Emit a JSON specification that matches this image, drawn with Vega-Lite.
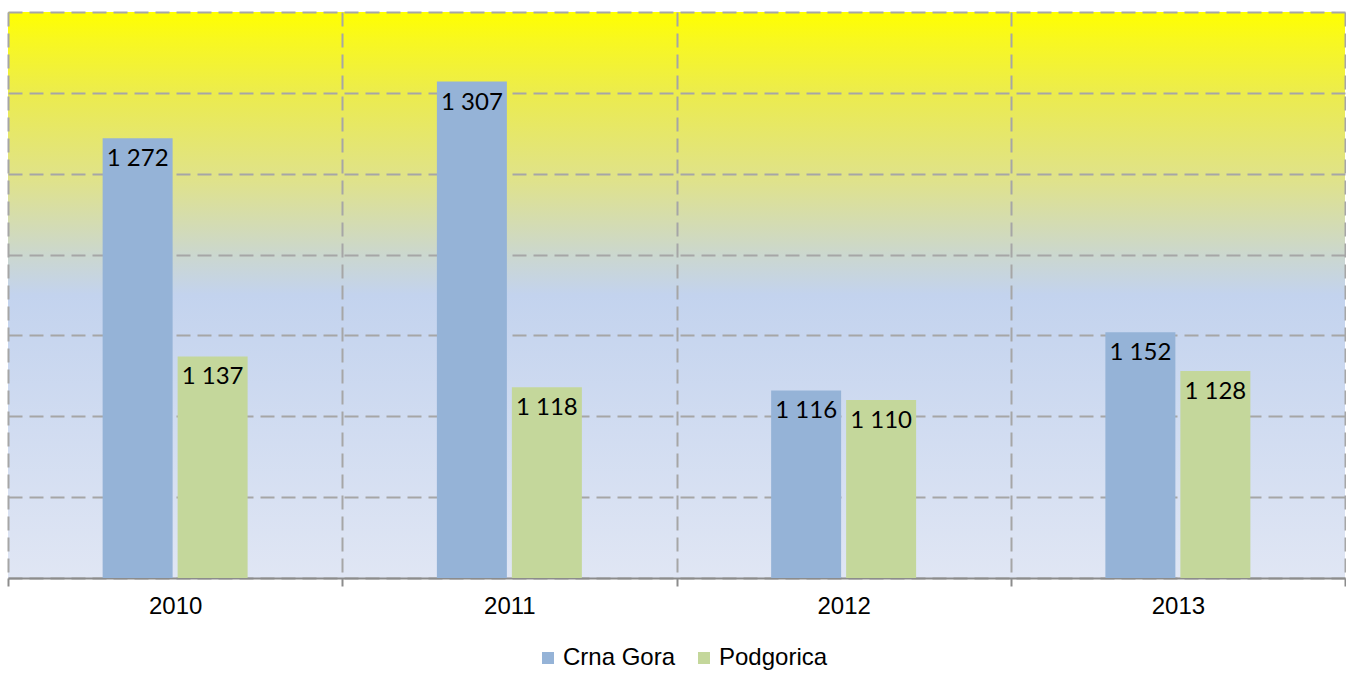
{
  "$schema": "https://vega.github.io/schema/vega-lite/v6.json",
  "width": 1337,
  "height": 566,
  "autosize": {"type": "none"},
  "padding": {"left": 8, "top": 12, "right": 1, "bottom": 95},
  "background": "white",
  "config": {
    "locale": {"number": {"decimal": ",", "thousands": " ", "grouping": [3], "currency": ["", ""]}},
    "view": {
      "stroke": null,
      "fill": {
        "gradient": "linear", "x1": 0, "y1": 0, "x2": 0, "y2": 1,
        "stops": [
          {"offset": 0, "color": "#ffff00"},
          {"offset": 0.05, "color": "#f8f820"},
          {"offset": 0.15, "color": "#ebeb50"},
          {"offset": 0.3, "color": "#dfe28c"},
          {"offset": 0.43, "color": "#cbd7cf"},
          {"offset": 0.5, "color": "#c3d3ee"},
          {"offset": 1, "color": "#e0e6f4"}
        ]
      }
    },
    "font": "Liberation Sans"
  },
  "data": {
    "values": [
      {"year": "2010", "region": "Crna Gora", "value": 1272},
      {"year": "2010", "region": "Podgorica", "value": 1137},
      {"year": "2011", "region": "Crna Gora", "value": 1307},
      {"year": "2011", "region": "Podgorica", "value": 1118},
      {"year": "2012", "region": "Crna Gora", "value": 1116},
      {"year": "2012", "region": "Podgorica", "value": 1110},
      {"year": "2013", "region": "Crna Gora", "value": 1152},
      {"year": "2013", "region": "Podgorica", "value": 1128}
    ]
  },
  "encoding": {
    "x": {
      "field": "year", "type": "nominal",
      "scale": {"paddingInner": 0, "paddingOuter": 0},
      "axis": {
        "title": null, "labelAngle": 0, "tickBand": "extent",
        "grid": true, "gridDash": [14, 7], "gridColor": "#a6a6a6", "gridWidth": 2,
        "domainColor": "#8c8c8c", "domainWidth": 2,
        "tickColor": "#8c8c8c", "tickSize": 8, "tickWidth": 2,
        "labelFontSize": 24, "labelColor": "#000000", "labelPadding": 8,
        "labelFont": "Liberation Sans"
      }
    },
    "xOffset": {
      "field": "region", "type": "nominal",
      "scale": {"domain": ["_l", "Crna Gora", "Podgorica", "_r"], "paddingInner": 0.0667, "paddingOuter": 0.262}
    }
  },
  "layer": [
    {
      "mark": {"type": "bar"},
      "encoding": {
        "y": {
          "field": "value", "type": "quantitative",
          "scale": {"domain": [1000, 1350], "zero": false, "nice": false},
          "axis": {
            "title": null, "values": [1000, 1050, 1100, 1150, 1200, 1250, 1300, 1350],
            "labels": false, "ticks": false, "domain": false,
            "grid": true, "gridDash": [14, 7], "gridColor": "#a6a6a6", "gridWidth": 2
          }
        },
        "y2": {"datum": 1000},
        "color": {
          "field": "region", "type": "nominal",
          "scale": {"domain": ["Crna Gora", "Podgorica"], "range": ["#95b3d7", "#c4d79b"]},
          "legend": {
            "title": null, "orient": "none", "legendX": 528, "legendY": 634, "direction": "horizontal",
            "symbolType": "square", "symbolSize": 144, "symbolStrokeWidth": 0,
            "labelFontSize": 24, "labelColor": "#000000", "labelFont": "Liberation Sans",
            "labelOffset": 3, "columnPadding": 16
          }
        }
      }
    },
    {
      "mark": {"type": "text", "baseline": "top", "dy": 9, "fontSize": 24, "font": "Lato", "color": "#000000"},
      "encoding": {
        "y": {"field": "value", "type": "quantitative"},
        "text": {"field": "value", "type": "quantitative", "format": ",d"}
      }
    }
  ]
}
